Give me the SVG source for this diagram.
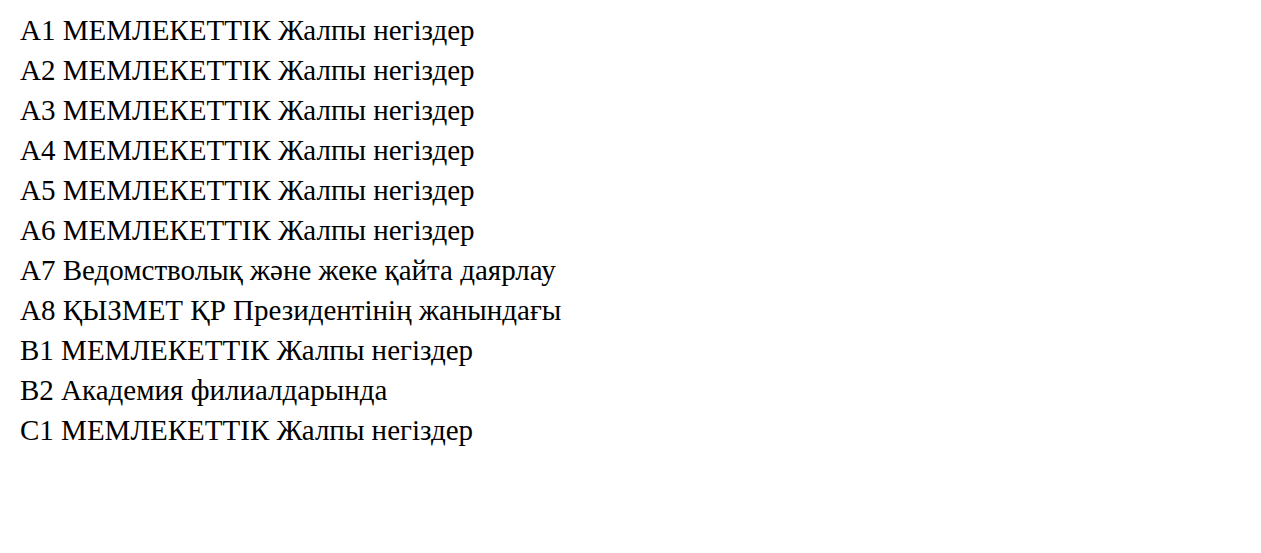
<svg xmlns="http://www.w3.org/2000/svg" width="1261" height="553" viewBox="0 0 1261 553">
<rect width="1261" height="553" fill="#fff"/>
<g font-size="29">
<text x="20" y="40" font-family="'Liberation Serif', 'Times New Roman', serif">A1 МЕМЛЕКЕТТІК Жалпы негіздер</text>
<text x="20" y="80" font-family="'Liberation Serif', serif">A2 МЕМЛЕКЕТТІК Жалпы негіздер</text>
<text x="20" y="120" font-family="Times New Roman">A3 МЕМЛЕКЕТТІК Жалпы негіздер</text>
<text x="20" y="160" font-family="serif">A4 МЕМЛЕКЕТТІК Жалпы негіздер</text>
<text x="20" y="200" font-family="Liberation Serif">A5 МЕМЛЕКЕТТІК Жалпы негіздер</text>
<text x="20" y="240" style="font-family:'Liberation Serif', serif">A6 МЕМЛЕКЕТТІК Жалпы негіздер</text>
<text x="20" y="280" font-family="'Liberation Serif', serif" text-anchor="start">A7 Ведомстволық және жеке қайта даярлау</text>
<text x="20" y="320" font-family="'Liberation Serif', serif">A8 ҚЫЗМЕТ ҚР Президентінің жанындағы</text>
</g>
<g font-family="'Liberation Serif', serif" font-size="29">
<text x="20" y="360">B1 МЕМЛЕКЕТТІК Жалпы негіздер</text>
<text x="20" y="400">B2 Академия филиалдарында</text>
</g>
<text x="20" y="440" font-family="'Liberation Serif', serif" font-size="29px">C1 МЕМЛЕКЕТТІК Жалпы негіздер</text>
</svg>
